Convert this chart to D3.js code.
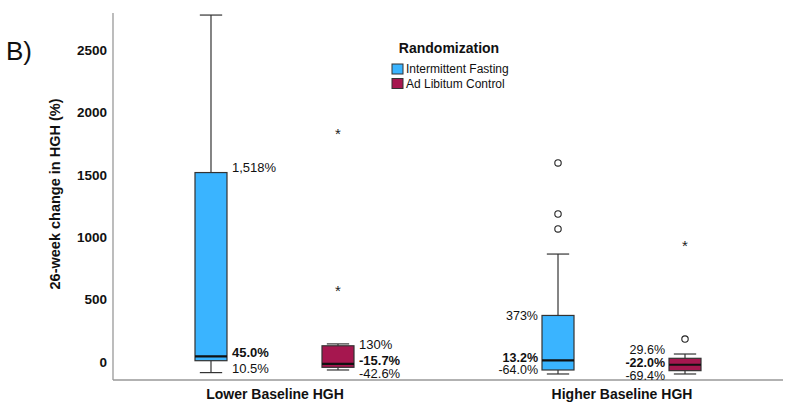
<!DOCTYPE html>
<html><head><meta charset="utf-8">
<script src="https://cdn.jsdelivr.net/npm/d3@7"></script>
<style>body{margin:0;background:#fff}svg{display:block}text{font-family:Arial,"Liberation Sans",sans-serif}</style>
</head><body><svg id="c" width="801" height="405"></svg>
<script>
const groups = ["Lower Baseline HGH", "Higher Baseline HGH"];
const arms = ["Intermittent Fasting", "Ad Libitum Control"];
const armColors = ["#3AB4FF", "#A6174F"];
const yTicks = [0, 500, 1000, 1500, 2000, 2500];
// box stats per group/arm: [whiskerLow, q1, median, q3, whiskerHigh]
const boxLowerIF = [-85, 10.5, 45.0, 1518, 2780];
const boxLowerCtl = [-64, -42.6, -15.7, 130, 145];
const boxHigherIF = [-96, -64.0, 13.2, 373, 865];
const boxHigherCtl = [-96, -69.4, -22.0, 29.6, 64];
// outliers: circles (mild) and stars (extreme)
const circlesLowerIF = [], starsLowerIF = [];
const circlesLowerCtl = [], starsLowerCtl = [585, 1843];
const circlesHigherIF = [1595, 1186, 1066], starsHigherIF = [];
const circlesHigherCtl = [184], starsHigherCtl = [945];
// labels: [q3 label, median label, q1 label]
const labelsLowerIF = ["1,518%", "45.0%", "10.5%"];
const labelsLowerCtl = ["130%", "-15.7%", "-42.6%"];
const labelsHigherIF = ["373%", "13.2%", "-64.0%"];
const labelsHigherCtl = ["29.6%", "-22.0%", "-69.4%"];

const data = [
  {g:0,a:0,box:boxLowerIF,circ:circlesLowerIF,star:starsLowerIF,lab:labelsLowerIF,side:"right"},
  {g:0,a:1,box:boxLowerCtl,circ:circlesLowerCtl,star:starsLowerCtl,lab:labelsLowerCtl,side:"right"},
  {g:1,a:0,box:boxHigherIF,circ:circlesHigherIF,star:starsHigherIF,lab:labelsHigherIF,side:"left"},
  {g:1,a:1,box:boxHigherCtl,circ:circlesHigherCtl,star:starsHigherCtl,lab:labelsHigherCtl,side:"left"}
];

const svg = d3.select("#c");
const mLeft = 113, mRight = 783, mBottom = 380, mTop = 13;
const y = d3.scaleLinear().domain([0, 2500]).range([362, 50]);
const x = d3.scalePoint().domain(groups).range([mLeft, mRight]).padding(0.4654);
const xs = d3.scalePoint().domain(arms).range([-63.5, 63.5]);
const bw = 32;

// axes
svg.append("line").attr("x1",mLeft).attr("x2",mLeft).attr("y1",mTop).attr("y2",mBottom).attr("stroke","#999").attr("stroke-width",1.3);
svg.append("line").attr("x1",mLeft).attr("x2",mRight).attr("y1",mBottom).attr("y2",mBottom).attr("stroke","#999").attr("stroke-width",1.3);
const yAxis = d3.axisLeft(y).tickValues(yTicks).tickSize(0).tickPadding(6).tickFormat(d3.format("d"));
const ya = svg.append("g").attr("transform",`translate(${mLeft},0)`).call(yAxis);
ya.select(".domain").remove();
ya.selectAll("text").attr("font-size",13.5).attr("font-weight","bold").attr("fill","#111").attr("font-family","Arial, 'Liberation Sans', sans-serif");
const xAxis = d3.axisBottom(x).tickSize(0).tickPadding(9);
const xa = svg.append("g").attr("transform",`translate(0,${mBottom})`).call(xAxis);
xa.select(".domain").remove();
xa.selectAll("text").attr("font-size",14).attr("font-weight","bold").attr("fill","#111").attr("font-family","Arial, 'Liberation Sans', sans-serif");

svg.append("text").attr("transform","translate(60,194) rotate(-90)").attr("text-anchor","middle")
  .attr("font-size",14.5).attr("font-weight","bold").attr("fill","#111").text("26-week change in HGH (%)");
svg.append("text").attr("x",6).attr("y",60).attr("font-size",26).attr("fill","#111").text("B)");

// boxes
data.forEach(d => {
  const cx = x(groups[d.g]) + xs(arms[d.a]);
  const [wl, q1, med, q3, wh] = d.box;
  const g = svg.append("g");
  g.append("line").attr("x1",cx).attr("x2",cx).attr("y1",y(wh)).attr("y2",y(q3)).attr("stroke","#333").attr("stroke-width",1.2);
  g.append("line").attr("x1",cx).attr("x2",cx).attr("y1",y(q1)).attr("y2",y(wl)).attr("stroke","#333").attr("stroke-width",1.2);
  g.append("line").attr("x1",cx-bw/3-0.5).attr("x2",cx+bw/3+0.5).attr("y1",y(wh)).attr("y2",y(wh)).attr("stroke","#333").attr("stroke-width",1.2);
  g.append("line").attr("x1",cx-bw/3-0.5).attr("x2",cx+bw/3+0.5).attr("y1",y(wl)).attr("y2",y(wl)).attr("stroke","#333").attr("stroke-width",1.2);
  g.append("rect").attr("x",cx-bw/2).attr("width",bw).attr("y",y(q3)).attr("height",y(q1)-y(q3))
    .attr("fill",armColors[d.a]).attr("stroke","#333").attr("stroke-width",1.2);
  g.append("line").attr("x1",cx-bw/2).attr("x2",cx+bw/2).attr("y1",y(med)).attr("y2",y(med)).attr("stroke","#111").attr("stroke-width",2.2);
  d.circ.forEach(v => g.append("circle").attr("cx",cx).attr("cy",y(v)).attr("r",3.2).attr("fill","#fff").attr("stroke","#222").attr("stroke-width",1.1));
  d.star.forEach(v => g.append("text").attr("x",cx).attr("y",y(v)+7).attr("text-anchor","middle").attr("font-size",15).attr("fill","#222").text("*"));
  // labels
  const lx = d.side === "right" ? cx + bw/2 + 5 : cx - bw/2 - 4;
  const anchor = d.side === "right" ? "start" : "end";
  let ys, fs = 13;
  if (d.g === 0 && d.a === 0) ys = [y(q3)-5, y(med)-4, y(q1)+8];
  else if (d.g === 0) ys = [y(q3)-1, y(med)-4, y(q1)+6.5];
  else if (d.a === 0) { ys = [y(q3), y(med)-3, y(q1)]; fs = 12.5; }
  else { ys = [y(q3)-9, y(med)-2, y(q1)+5]; fs = 12.5; }
  [0,1,2].forEach(i => g.append("text").attr("x",lx).attr("y",ys[i]).attr("dy","0.35em").attr("text-anchor",anchor)
    .attr("font-size",fs).attr("font-weight", i===1 ? "bold" : "normal").attr("fill","#111").text(d.lab[i]));
});

// legend
const lg = svg.append("g");
lg.append("text").attr("x",449).attr("y",53).attr("text-anchor","middle").attr("font-size",14).attr("font-weight","bold").attr("fill","#111").text("Randomization");
arms.forEach((a,i) => {
  lg.append("rect").attr("x",392).attr("y",64+i*14.5).attr("width",11).attr("height",10).attr("fill",armColors[i]).attr("stroke","#333").attr("stroke-width",1);
  lg.append("text").attr("x",406).attr("y",69+i*14.5).attr("dy","0.35em").attr("font-size",12).attr("fill","#111").text(a);
});
</script></body></html>
